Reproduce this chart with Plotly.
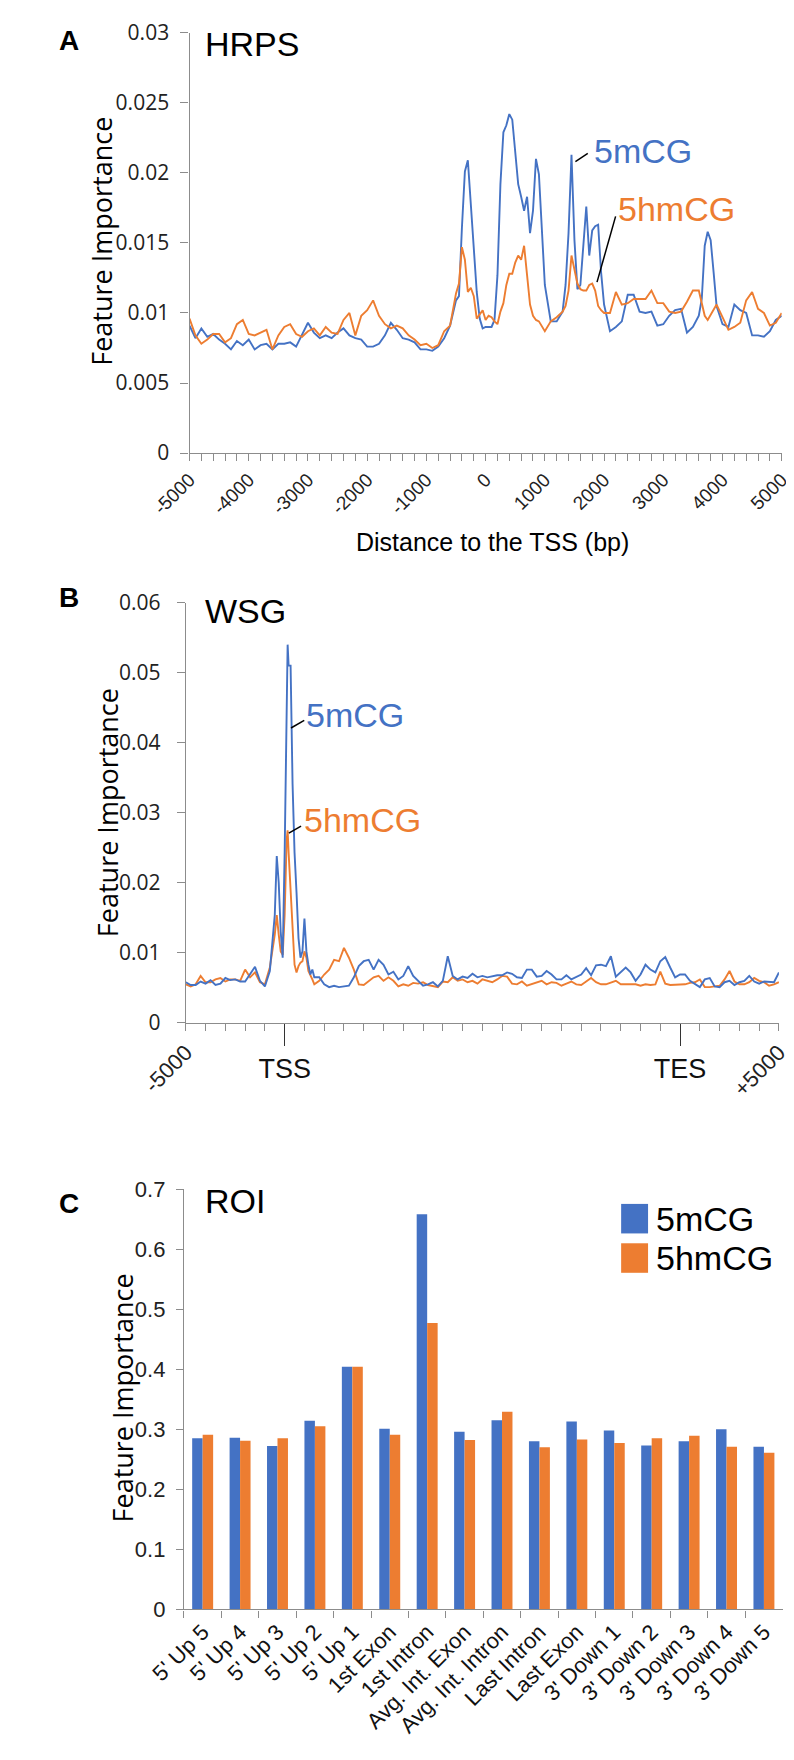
import plotly.graph_objects as go

BLUE = "#4472C4"
ORANGE = "#ED7D31"
AXIS = "#8c8c8c"
ARIAL = "Liberation Sans, Arial, sans-serif"
SEGOE = "Open Sans, Noto Sans, sans-serif"
NARROW = "Liberation Sans Narrow, Liberation Sans, Arial, sans-serif"

# ---- panel A: HRPS, distance to TSS (bp) ----
a_pos = [-5000, -4900, -4800, -4700, -4600, -4500, -4400, -4300, -4200, -4100,
         -4000, -3900, -3800, -3700, -3600, -3500, -3400, -3300, -3200, -3100,
         -3000, -2900, -2800, -2700, -2600, -2500, -2400, -2300, -2200, -2100,
         -2000, -1900, -1800, -1700, -1600, -1500, -1400, -1300, -1200, -1100,
         -1000, -900, -800, -700, -600, -500,
         -450, -400, -350, -300, -250, -200, -150, -100, -50, 0,
         50, 100, 150, 200, 250, 300, 350, 400, 450, 500,
         550, 600, 650, 700, 750, 800, 850, 900, 950, 1000,
         1100, 1200, 1300,
         1350, 1400, 1450, 1500, 1550, 1600, 1650, 1700, 1750, 1800, 1850, 1900, 1950, 2000,
         2100, 2200, 2300, 2400, 2500, 2600, 2700, 2800, 2900, 3000, 3100, 3200, 3300, 3400, 3500, 3600,
         3650, 3700, 3750, 3800, 3850, 3900,
         4000, 4100, 4200, 4300, 4400, 4500, 4600, 4700, 4800, 4900, 5000]

a_5mcg = [0.0091, 0.0082, 0.0089, 0.0083, 0.0085, 0.0081, 0.0078, 0.0074, 0.0080, 0.0077,
          0.0081, 0.0074, 0.0077, 0.0078, 0.0074, 0.0078, 0.0078, 0.0079, 0.0076, 0.0085,
          0.0093, 0.0086, 0.0082, 0.0084, 0.0082, 0.0086, 0.0089, 0.0084, 0.0082, 0.0081,
          0.0076, 0.0076, 0.0078, 0.0084, 0.0093, 0.0088, 0.0082, 0.0081, 0.0079, 0.0074,
          0.0074, 0.0073, 0.0076, 0.0082, 0.0091, 0.0109,
          0.0112, 0.0161, 0.0201, 0.0209, 0.0180, 0.0145, 0.0115, 0.0096, 0.0089, 0.0090,
          0.0090, 0.0090, 0.0095, 0.0127, 0.0192, 0.0229, 0.0234, 0.0242, 0.0238, 0.0215,
          0.0192, 0.0183, 0.0173, 0.0183, 0.0157, 0.0173, 0.0210, 0.0199, 0.0159, 0.0120,
          0.0094, 0.0094, 0.0101,
          0.0120, 0.0157, 0.0213, 0.0152, 0.0117, 0.0120, 0.0152, 0.0176, 0.0141, 0.0159, 0.0162, 0.0163, 0.0129, 0.0106,
          0.0087, 0.0090, 0.0094, 0.0113, 0.0113, 0.0101, 0.0100, 0.0101, 0.0091, 0.0092, 0.0098, 0.0102, 0.0103, 0.0086, 0.0090, 0.0098,
          0.0110, 0.0148, 0.0158, 0.0152, 0.0129, 0.0105,
          0.0092, 0.0090, 0.0106, 0.0102, 0.0100, 0.0084, 0.0084, 0.0083, 0.0087, 0.0095, 0.0098]

a_5hmcg = [0.0096, 0.0084, 0.0078, 0.0081, 0.0085, 0.0085, 0.0079, 0.0082, 0.0092, 0.0095,
           0.0085, 0.0084, 0.0086, 0.0088, 0.0074, 0.0084, 0.0090, 0.0092, 0.0085, 0.0083,
           0.0087, 0.0089, 0.0084, 0.0090, 0.0086, 0.0085, 0.0095, 0.0100, 0.0084, 0.0098,
           0.0102, 0.0109, 0.0098, 0.0092, 0.0089, 0.0091, 0.0089, 0.0084, 0.0081, 0.0077,
           0.0078, 0.0075, 0.0077, 0.0087, 0.0091, 0.0114,
           0.0121, 0.0147, 0.0138, 0.0115, 0.0118, 0.0112, 0.0096, 0.0099, 0.0102, 0.0095,
           0.0098, 0.0097, 0.0094, 0.0092, 0.0101, 0.0107, 0.0120, 0.0128, 0.0128, 0.0136,
           0.0141, 0.0138, 0.0148, 0.0127, 0.0106, 0.0098, 0.0095, 0.0094, 0.0090, 0.0087,
           0.0094, 0.0097, 0.0101,
           0.0105, 0.0116, 0.0141, 0.0131, 0.0121, 0.0117, 0.0116, 0.0116, 0.0120, 0.0121, 0.0116, 0.0105, 0.0102, 0.0100,
           0.0100, 0.0115, 0.0106, 0.0107, 0.0110, 0.0110, 0.0110, 0.0116, 0.0107, 0.0107, 0.0101, 0.0100, 0.0101, 0.0108, 0.0116, 0.0116,
           0.0108, 0.0098, 0.0095, 0.0099, 0.0103, 0.0106,
           0.0097, 0.0088, 0.0090, 0.0093, 0.0109, 0.0115, 0.0103, 0.0100, 0.0091, 0.0093, 0.0100]

a_xticks = [-5000, -4000, -3000, -2000, -1000, 0, 1000, 2000, 3000, 4000, 5000]
a_xlabels = ["-5000", "-4000", "-3000", "-2000", "-1000", "0", "1000", "2000", "3000", "4000", "5000"]
a_yticks = [0, 0.005, 0.01, 0.015, 0.02, 0.025, 0.03]
a_ylabels = ["0", "0.005", "0.01", "0.015", "0.02", "0.025", "0.03"]

# ---- panel B: WSG, 30 bins (-5000 .. TSS .. TES .. +5000) ----
b_pos = [0, 0.25, 0.5, 0.75, 1, 1.25, 1.5, 1.75, 2, 2.25, 2.5, 2.75, 3, 3.25, 3.5, 3.75, 4, 4.25, 4.5,
         4.6, 4.7, 4.8, 4.9, 5.0, 5.1, 5.15, 5.2, 5.3, 5.4, 5.5, 5.6, 5.7, 5.8, 5.9, 6.0, 6.1, 6.2, 6.3, 6.4, 6.5,
         6.75, 7, 7.25, 7.5, 7.75, 8, 8.25, 8.5, 8.75, 9, 9.25, 9.5, 9.75, 10, 10.25, 10.5,
         10.75, 11, 11.25, 11.5, 11.75, 12, 12.25, 12.5, 12.75, 13,
         13.25, 13.5, 13.75, 14, 14.25, 14.5, 14.75, 15, 15.25, 15.5,
         15.75, 16, 16.25, 16.5, 16.75, 17, 17.25, 17.5, 17.75, 18,
         18.25, 18.5, 18.75, 19, 19.25, 19.5, 19.75, 20, 20.25, 20.5,
         20.75, 21, 21.25, 21.5, 21.75, 22, 22.25, 22.5, 22.75, 23,
         23.25, 23.5, 23.75, 24, 24.25, 24.5, 24.75, 25, 25.25, 25.5,
         25.75, 26, 26.25, 26.5, 26.75, 27, 27.25, 27.5, 27.75, 28,
         28.25, 28.5, 28.75, 29, 29.25, 29.5, 29.75, 30]

b_5mcg = [0.0058, 0.0054, 0.0054, 0.0059, 0.0056, 0.0061, 0.0054, 0.0056, 0.0064, 0.0061,
          0.0062, 0.0059, 0.0059, 0.0070, 0.0080, 0.0060, 0.0052, 0.0074, 0.0154,
          0.0238, 0.0200, 0.0130, 0.0093, 0.0243, 0.0481, 0.0540, 0.0510, 0.0510, 0.0341,
          0.0243, 0.0186, 0.0121, 0.0093, 0.0102, 0.0149, 0.0102, 0.0083, 0.0069, 0.0076, 0.0065,
          0.0065, 0.0055, 0.0051, 0.0053, 0.0051, 0.0052, 0.0053, 0.0065, 0.0081, 0.0088,
          0.0090, 0.0076, 0.0090, 0.0083, 0.0069, 0.0073,
          0.0062, 0.0067, 0.0081, 0.0067, 0.0060, 0.0053, 0.0055, 0.0058, 0.0052, 0.0060,
          0.0095, 0.0067, 0.0062, 0.0066, 0.0064, 0.0070, 0.0065, 0.0067, 0.0065, 0.0067,
          0.0068, 0.0068, 0.0072, 0.0070, 0.0065, 0.0064, 0.0076, 0.0076, 0.0066, 0.0067,
          0.0074, 0.0069, 0.0062, 0.0062, 0.0068, 0.0062, 0.0066, 0.0069, 0.0078, 0.0068,
          0.0082, 0.0083, 0.0081, 0.0095, 0.0066, 0.0072, 0.0079, 0.0072, 0.0060, 0.0069,
          0.0083, 0.0076, 0.0072, 0.0088, 0.0094, 0.0079, 0.0065, 0.0069, 0.0069, 0.0060,
          0.0055, 0.0051, 0.0062, 0.0064, 0.0052, 0.0051, 0.0058, 0.0060, 0.0054, 0.0058,
          0.0060, 0.0067, 0.0059, 0.0056, 0.0059, 0.0058, 0.0058, 0.0072]

b_5hmcg = [0.0055, 0.0052, 0.0055, 0.0067, 0.0058, 0.0058, 0.0062, 0.0064, 0.0059, 0.0062,
           0.0062, 0.0060, 0.0076, 0.0065, 0.0072, 0.0058, 0.0055, 0.0079, 0.0126,
           0.0154, 0.0126, 0.0102, 0.0097, 0.0154, 0.0261, 0.0275, 0.0243, 0.0186, 0.0130,
           0.0083, 0.0072, 0.0081, 0.0086, 0.0088, 0.0102, 0.0093, 0.0074, 0.0069, 0.0062, 0.0055,
           0.0060, 0.0069, 0.0076, 0.0090, 0.0088, 0.0107, 0.0093, 0.0076, 0.0055, 0.0054,
           0.0060, 0.0065, 0.0067, 0.0060, 0.0065, 0.0060,
           0.0052, 0.0055, 0.0053, 0.0057, 0.0056, 0.0058, 0.0054, 0.0053, 0.0051, 0.0059,
           0.0058, 0.0065, 0.0060, 0.0062, 0.0058, 0.0060, 0.0056, 0.0062, 0.0060, 0.0058,
           0.0062, 0.0067, 0.0066, 0.0056, 0.0055, 0.0059, 0.0053, 0.0055, 0.0058, 0.0060,
           0.0055, 0.0058, 0.0057, 0.0053, 0.0056, 0.0059, 0.0055, 0.0054, 0.0059, 0.0064,
           0.0058, 0.0055, 0.0055, 0.0058, 0.0060, 0.0055, 0.0055, 0.0055, 0.0055, 0.0053,
           0.0055, 0.0054, 0.0055, 0.0073, 0.0056, 0.0054, 0.0054, 0.0055, 0.0055, 0.0057,
           0.0058, 0.0062, 0.0051, 0.0051, 0.0052, 0.0053, 0.0062, 0.0074, 0.0059, 0.0055,
           0.0055, 0.0058, 0.0064, 0.0060, 0.0058, 0.0053, 0.0055, 0.0058]

b_edge_ticks = [0, 30]
b_edge_labels = ["-5000", "+5000"]
b_gene_ticks = [5, 25]
b_gene_labels = ["TSS", "TES"]
b_yticks = [0, 0.01, 0.02, 0.03, 0.04, 0.05, 0.06]
b_ylabels = ["0", "0.01", "0.02", "0.03", "0.04", "0.05", "0.06"]

# ---- panel C: ROI bars ----
regions = ["5' Up 5", "5' Up 4", "5' Up 3", "5' Up 2", "5' Up 1", "1st Exon", "1st Intron",
           "Avg. Int. Exon", "Avg. Int. Intron", "Last Intron", "Last Exon",
           "3' Down 1", "3' Down 2", "3' Down 3", "3' Down 4", "3' Down 5"]
roi_5mcg = [0.285, 0.286, 0.272, 0.314, 0.404, 0.301, 0.658, 0.296, 0.315, 0.280, 0.313,
            0.298, 0.273, 0.280, 0.300, 0.271]
roi_5hmcg = [0.291, 0.281, 0.285, 0.305, 0.404, 0.291, 0.477, 0.282, 0.329, 0.270, 0.283,
             0.277, 0.285, 0.289, 0.271, 0.261]
c_yticks = [0, 0.1, 0.2, 0.3, 0.4, 0.5, 0.6, 0.7]
c_ylabels = ["0", "0.1", "0.2", "0.3", "0.4", "0.5", "0.6", "0.7"]

W, H = 794, 1760


def px(x):
    return x / W


def py(y):
    return 1 - y / H


fig = go.Figure()

line_w = 1.9
fig.add_trace(go.Scatter(x=a_pos, y=a_5mcg, mode="lines", line=dict(color=BLUE, width=line_w),
                         xaxis="x", yaxis="y"))
fig.add_trace(go.Scatter(x=a_pos, y=a_5hmcg, mode="lines", line=dict(color=ORANGE, width=line_w),
                         xaxis="x", yaxis="y"))
fig.add_trace(go.Scatter(x=b_pos, y=b_5hmcg, mode="lines", line=dict(color=ORANGE, width=line_w),
                         xaxis="x2", yaxis="y2"))
fig.add_trace(go.Scatter(x=b_pos, y=b_5mcg, mode="lines", line=dict(color=BLUE, width=line_w),
                         xaxis="x2", yaxis="y2"))
# carrier for the TSS / TES tick axis
fig.add_trace(go.Scatter(x=b_gene_ticks, y=[None, None], mode="lines", xaxis="x4", yaxis="y2",
                         hoverinfo="skip"))
fig.add_trace(go.Bar(x=regions, y=roi_5mcg, marker=dict(color=BLUE, line=dict(width=0)),
                     xaxis="x3", yaxis="y3"))
fig.add_trace(go.Bar(x=regions, y=roi_5hmcg, marker=dict(color=ORANGE, line=dict(width=0)),
                     xaxis="x3", yaxis="y3"))

common = dict(showgrid=False, zeroline=False, showline=True, linecolor=AXIS, linewidth=1.3,
              ticks="outside", tickcolor=AXIS, tickwidth=1.3, mirror=False)

fig.update_layout(
    width=W, height=H, margin=dict(l=0, r=0, t=0, b=0),
    paper_bgcolor="white", plot_bgcolor="white", showlegend=False,
    barmode="group", bargap=0.44, bargroupgap=0,
    xaxis=dict(common, domain=[px(146), px(784)], anchor="y", range=[-5000, 5000],
               tickmode="array", tickvals=a_xticks, ticktext=a_xlabels, tickangle=-45,
               ticklen=7, tickfont=dict(family=ARIAL, size=19, color="#222"),
               minor=dict(ticks="outside", dtick=200, tick0=-5000, ticklen=7,
                          tickcolor=AXIS, tickwidth=1.3)),
    yaxis=dict(common, domain=[py(437), py(10)], anchor="x", range=[0, 0.03],
               tickmode="array", tickvals=a_yticks, ticktext=a_ylabels, ticklen=8,
               ticklabelstandoff=7, tickfont=dict(family=SEGOE, size=21, color="#222")),
    xaxis2=dict(common, domain=[px(142), px(781)], anchor="y2", range=[0, 30],
                tickmode="array", tickvals=b_edge_ticks, ticktext=b_edge_labels, tickangle=-45,
                ticklen=7, tickfont=dict(family=ARIAL, size=22, color="#222"),
                minor=dict(ticks="outside", dtick=1, tick0=0, ticklen=7,
                           tickcolor=AXIS, tickwidth=1.3)),
    xaxis4=dict(overlaying="x2", anchor="y2", side="bottom", range=[0, 30],
                showgrid=False, zeroline=False, showline=False,
                tickmode="array", tickvals=b_gene_ticks, ticktext=b_gene_labels, tickangle=0,
                ticks="outside", ticklen=22, tickcolor="#333", tickwidth=1.3,
                tickfont=dict(family=ARIAL, size=27, color="#111")),
    yaxis2=dict(common, domain=[py(1016), py(589)], anchor="x2", range=[0, 0.06],
                tickmode="array", tickvals=b_yticks, ticktext=b_ylabels, ticklen=8,
                ticklabelstandoff=12, tickfont=dict(family=SEGOE, size=21, color="#222")),
    xaxis3=dict(common, domain=[px(140), px(785)], anchor="y3", type="category",
                tickson="boundaries", ticklen=7, tickangle=-45,
                tickfont=dict(family=ARIAL, size=22, color="#111")),
    yaxis3=dict(common, domain=[py(1612), py(1185)], anchor="x3", range=[0, 0.7],
                tickmode="array", tickvals=c_yticks, ticktext=c_ylabels, ticklen=7,
                ticklabelstandoff=6, tickfont=dict(family=NARROW, size=22, color="#222")),
)

ann = []


def note(x, y, text, size, color="black", family=ARIAL, xanchor="left", angle=0, xref="paper", yref="paper"):
    ann.append(dict(x=x, y=y, xref=xref, yref=yref, text=text, showarrow=False, textangle=angle,
                    xanchor=xanchor, yanchor="middle", font=dict(family=family, size=size, color=color)))


# panel letters and titles
note(px(3), py(18), "<b>A</b>", 28)
note(px(3), py(584), "<b>B</b>", 28)
note(px(3), py(1200), "<b>C</b>", 28)
note(px(161), py(21), "HRPS", 34)
note(px(161), py(597), "WSG", 34)
note(px(160), py(1197), "ROI", 34)

# axis titles
note(px(51), py(222), "Feature Importance", 27, family=SEGOE, xanchor="center", angle=-90)
note(px(57), py(802), "Feature Importance", 27, family=SEGOE, xanchor="center", angle=-90)
note(px(74), py(1397), "Feature Importance", 27, family=SEGOE, xanchor="center", angle=-90)
note(px(472), py(527), "Distance to the TSS (bp)", 25, xanchor="center")

# series labels
note(1790, 0.0216, "5mCG", 34, color=BLUE, xref="x", yref="y")
note(2210, 0.0174, "5hmCG", 34, color=ORANGE, xref="x", yref="y")
note(6.0, 0.0440, "5mCG", 34, color=BLUE, xref="x2", yref="y2")
note(5.88, 0.0289, "5hmCG", 34, color=ORANGE, xref="x2", yref="y2")

# legend of panel C
note(px(646), py(1215), "5mCG", 34)
note(px(646), py(1255), "5hmCG", 34)

fig.update_layout(annotations=ann)

shapes = [
    dict(type="line", xref="x", yref="y", x0=1516, y0=0.0208, x1=1725, y1=0.0214,
         line=dict(color="black", width=1.5)),
    dict(type="line", xref="x", yref="y", x0=1881, y0=0.0122, x1=2195, y1=0.0169,
         line=dict(color="black", width=1.5)),
    dict(type="line", xref="x2", yref="y2", x0=5.32, y0=0.0421, x1=5.99, y1=0.0432,
         line=dict(color="black", width=1.5)),
    dict(type="line", xref="x2", yref="y2", x0=5.21, y0=0.0271, x1=5.83, y1=0.0281,
         line=dict(color="black", width=1.5)),
    dict(type="rect", xref="paper", yref="paper", x0=px(611), x1=px(640), y0=py(1230), y1=py(1200),
         fillcolor=BLUE, line=dict(width=0)),
    dict(type="rect", xref="paper", yref="paper", x0=px(611), x1=px(640), y0=py(1270), y1=py(1240),
         fillcolor=ORANGE, line=dict(width=0)),
]
fig.update_layout(shapes=shapes)

fig.write_html("out.html")
